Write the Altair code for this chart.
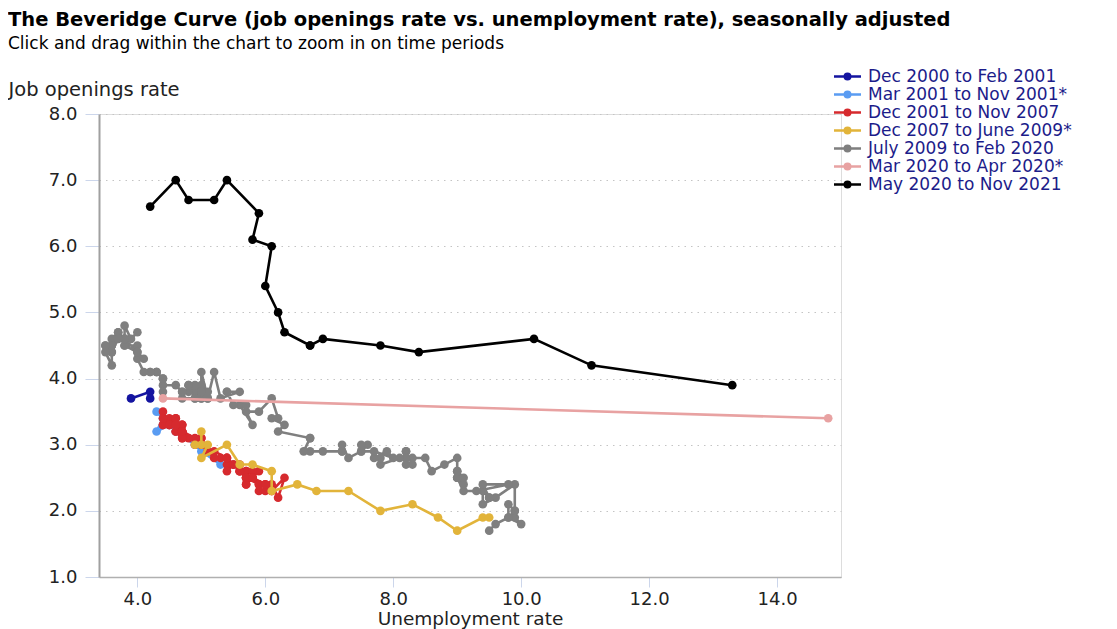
import altair as alt
import pandas as pd

# ---- data ----
periods = [
    "Dec 2000 to Feb 2001",
    "Mar 2001 to Nov 2001*",
    "Dec 2001 to Nov 2007",
    "Dec 2007 to June 2009*",
    "July 2009 to Feb 2020",
    "Mar 2020 to Apr 2020*",
    "May 2020 to Nov 2021",
]
colors = ["#1414a0", "#5a9cf2", "#d62a2e", "#e2b43a", "#7f7f7f", "#e8a2a2", "#000000"]

ur_p1 = [3.9, 4.2, 4.2]
jo_p1 = [3.7, 3.8, 3.7]

ur_p2 = [4.3, 4.4, 4.3, 4.5, 4.6, 4.9, 5.0, 5.3, 5.5]
jo_p2 = [3.5, 3.4, 3.2, 3.3, 3.2, 3.0, 2.9, 2.7, 2.7]

ur_p3 = [5.7,
         5.7, 5.7, 5.7, 5.9, 5.8, 5.8, 5.8, 5.7, 5.7, 5.7, 5.9, 6.0,
         5.8, 5.9, 5.9, 6.0, 6.1, 6.3, 6.2, 6.1, 6.1, 6.0, 5.8, 5.7,
         5.7, 5.6, 5.8, 5.6, 5.6, 5.6, 5.5, 5.4, 5.4, 5.5, 5.4, 5.4,
         5.3, 5.4, 5.2, 5.2, 5.1, 5.0, 5.0, 4.9, 5.0, 5.0, 5.0, 4.9,
         4.7, 4.8, 4.7, 4.7, 4.6, 4.6, 4.7, 4.7, 4.5, 4.4, 4.5, 4.4,
         4.6, 4.5, 4.4, 4.5, 4.4, 4.6, 4.7, 4.6, 4.7, 4.7, 4.7]
jo_p3 = [2.6,
         2.6, 2.5, 2.5, 2.6, 2.5, 2.6, 2.5, 2.4, 2.5, 2.5, 2.4, 2.4,
         2.5, 2.4, 2.3, 2.3, 2.3, 2.5, 2.2, 2.4, 2.3, 2.4, 2.5, 2.4,
         2.5, 2.6, 2.5, 2.6, 2.7, 2.6, 2.7, 2.7, 2.6, 2.7, 2.8, 2.8,
         2.8, 2.8, 2.9, 2.8, 2.9, 3.0, 3.0, 3.0, 3.1, 3.0, 3.1, 3.1,
         3.2, 3.1, 3.3, 3.3, 3.2, 3.2, 3.1, 3.3, 3.3, 3.3, 3.4, 3.3,
         3.4, 3.3, 3.5, 3.3, 3.4, 3.4, 3.2, 3.3, 3.2, 3.1, 3.2]

ur_p4 = [5.0, 5.0, 4.9, 5.1, 5.0, 5.4, 5.6, 5.8, 6.1, 6.1, 6.5, 6.8, 7.3,
         7.8, 8.3, 8.7, 9.0, 9.4, 9.5]
jo_p4 = [3.2, 3.0, 3.0, 3.0, 2.8, 3.0, 2.7, 2.7, 2.6, 2.3, 2.4, 2.3, 2.3,
         2.0, 2.1, 1.9, 1.7, 1.9, 1.9]

ur_p5 = [9.5, 9.6, 9.8, 10.0, 9.9, 9.9,
         9.8, 9.8, 9.9, 9.9, 9.6, 9.4, 9.4, 9.5, 9.5, 9.4, 9.8, 9.3,
         9.1, 9.0, 9.0, 9.1, 9.0, 9.1, 9.0, 9.0, 9.0, 8.8, 8.6, 8.5,
         8.3, 8.3, 8.2, 8.2, 8.2, 8.2, 8.2, 8.1, 7.8, 7.8, 7.7, 7.9,
         8.0, 7.7, 7.5, 7.6, 7.5, 7.5, 7.3, 7.2, 7.2, 7.2, 6.9, 6.7,
         6.6, 6.7, 6.7, 6.2, 6.3, 6.1, 6.2, 6.1, 5.9, 5.7, 5.8, 5.6,
         5.7, 5.5, 5.4, 5.4, 5.6, 5.3, 5.2, 5.1, 5.0, 5.0, 5.1, 5.0,
         4.8, 4.9, 5.0, 5.1, 4.8, 4.9, 4.8, 4.9, 5.0, 4.9, 4.7, 4.7,
         4.7, 4.6, 4.4, 4.4, 4.4, 4.3, 4.3, 4.4, 4.3, 4.2, 4.2, 4.1,
         4.0, 4.1, 4.0, 4.0, 3.8, 4.0, 3.8, 3.8, 3.7, 3.8, 3.8, 3.9,
         4.0, 3.8, 3.8, 3.7, 3.6, 3.6, 3.7, 3.6, 3.5, 3.6, 3.6, 3.6,
         3.5, 3.5]
jo_p5 = [1.7, 1.8, 1.9, 1.8, 1.9, 2.0,
         2.1, 1.9, 2.0, 2.4, 2.2, 2.1, 2.3, 2.2, 2.2, 2.4, 2.4, 2.3,
         2.3, 2.5, 2.5, 2.4, 2.6, 2.5, 2.5, 2.6, 2.8, 2.7, 2.6, 2.8,
         2.8, 2.7, 2.9, 2.8, 2.7, 2.9, 2.8, 2.8, 2.7, 2.8, 2.8, 2.9,
         2.8, 2.9, 2.9, 3.0, 3.0, 2.9, 2.8, 3.0, 2.9, 2.9, 2.9, 2.9,
         2.9, 3.1, 3.1, 3.2, 3.3, 3.4, 3.4, 3.7, 3.5, 3.5, 3.3, 3.6,
         3.6, 3.6, 3.8, 3.8, 3.8, 3.7, 4.1, 3.7, 4.1, 3.7, 3.8, 3.7,
         3.9, 3.8, 3.9, 3.7, 3.8, 3.9, 3.9, 3.7, 3.8, 3.7, 3.7, 3.8,
         3.8, 3.9, 3.9, 3.8, 4.0, 4.1, 4.1, 4.0, 4.1, 4.1, 4.1, 4.1,
         4.3, 4.3, 4.4, 4.5, 4.5, 4.4, 4.6, 4.6, 4.7, 4.6, 4.8, 4.6,
         4.7, 4.5, 4.6, 4.7, 4.6, 4.5, 4.6, 4.4, 4.5, 4.4, 4.5, 4.2,
         4.4, 4.5]

ur_p6 = [4.4, 14.8]
jo_p6 = [3.7, 3.4]

ur_p7 = [13.3, 11.1, 10.2, 8.4, 7.8, 6.9, 6.7, 6.7, 6.3, 6.2, 6.0, 6.1,
         5.8, 5.9, 5.4, 5.2, 4.8, 4.6, 4.2]
jo_p7 = [3.9, 4.2, 4.6, 4.4, 4.5, 4.6, 4.5, 4.5, 4.7, 5.0, 5.4, 6.0,
         6.1, 6.5, 7.0, 6.7, 6.7, 7.0, 6.6]

x_ticks = [4.0, 6.0, 8.0, 10.0, 12.0, 14.0]
y_ticks = [1.0, 2.0, 3.0, 4.0, 5.0, 6.0, 7.0, 8.0]

ur_all = [ur_p1, ur_p2, ur_p3, ur_p4, ur_p5, ur_p6, ur_p7]
jo_all = [jo_p1, jo_p2, jo_p3, jo_p4, jo_p5, jo_p6, jo_p7]

rows = []
k = 0
for p, urs, jos in zip(periods, ur_all, jo_all):
    for u, j in zip(urs, jos):
        rows.append({"period": p, "idx": k, "ur": u, "jo": j})
        k += 1
df = pd.DataFrame(rows)

FONT = "DejaVu Sans"

x_enc = alt.X(
    "ur:Q",
    scale=alt.Scale(domain=[3.4, 15.0], nice=False, zero=False),
    axis=alt.Axis(
        title="Unemployment rate", values=x_ticks, format=".1f", grid=False,
        domainColor="#b0b0b0", domainWidth=1.5, tickColor="#ccd6eb", tickSize=10,
        labelFont=FONT, labelFontSize=18, labelColor="#222222", labelPadding=3,
        titleFont=FONT, titleFontSize=18.5, titleFontWeight="normal", titleColor="#222222",
        titlePadding=1,
    ),
)
y_enc = alt.Y(
    "jo:Q",
    scale=alt.Scale(domain=[1.0, 8.0], nice=False, zero=False),
    axis=alt.Axis(
        title="Job openings rate", values=y_ticks, format=".1f", grid=True,
        gridColor="#c4c4c4", gridDash=[1.5, 5], gridWidth=1,
        domainColor="#a0a0a0", domainWidth=2, tickColor="#ccd6eb", tickSize=14,
        labelFont=FONT, labelFontSize=18, labelColor="#222222", labelPadding=8,
        titleFont=FONT, titleFontSize=19.5, titleFontWeight="normal", titleColor="#222222",
        titleAngle=0, titleAlign="left", titleBaseline="middle", titleX=-91, titleY=-25,
    ),
)

sym_path = ("M-6.75,0H6.75"
            "M-1.375,0A1.375,1.375,0,1,0,1.375,0A1.375,1.375,0,1,0,-1.375,0"
            "M-0.45,0A0.45,0.45,0,1,0,0.45,0A0.45,0.45,0,1,0,-0.45,0")

color_enc = alt.Color(
    "period:N",
    scale=alt.Scale(domain=periods, range=colors),
    legend=alt.Legend(
        title=None, orient="none", legendX=740, legendY=-46,
        symbolType=sym_path, symbolSize=16, symbolStrokeWidth=2.5,
        labelFont=FONT, labelFontSize=17, labelColor="#1c1c8a", labelOffset=12,
        rowPadding=0, labelLimit=400,
    ),
)

layers = []
for p in periods:
    layers.append(
        alt.Chart(df)
        .transform_filter(alt.datum.period == p)
        .mark_line(strokeWidth=2.6,
                   point=alt.OverlayMarkDef(filled=True, size=75, opacity=1))
        .encode(x=x_enc, y=y_enc, color=color_enc, order="idx:Q")
    )

chart = (
    alt.layer(*layers)
    .properties(
        width=742, height=463,
        title=alt.Title(
            text="The Beveridge Curve (job openings rate vs. unemployment rate), seasonally adjusted",
            subtitle="Click and drag within the chart to zoom in on time periods",
            anchor="start", frame="group", dx=-91, offset=15, limit=1090,
            font=FONT, fontSize=19.5, fontWeight="bold", color="#000000",
            subtitleFont=FONT, subtitleFontSize=17, subtitleColor="#000000",
            subtitlePadding=6,
        ),
        autosize=alt.AutoSizeParams(type="none"),
        padding={"left": 91, "top": 106, "right": 268, "bottom": 52},
    )
    .configure_view(stroke=None)
    .configure(background="white")
)

chart.save("out.html", embed_options={"renderer": "svg", "actions": False})
